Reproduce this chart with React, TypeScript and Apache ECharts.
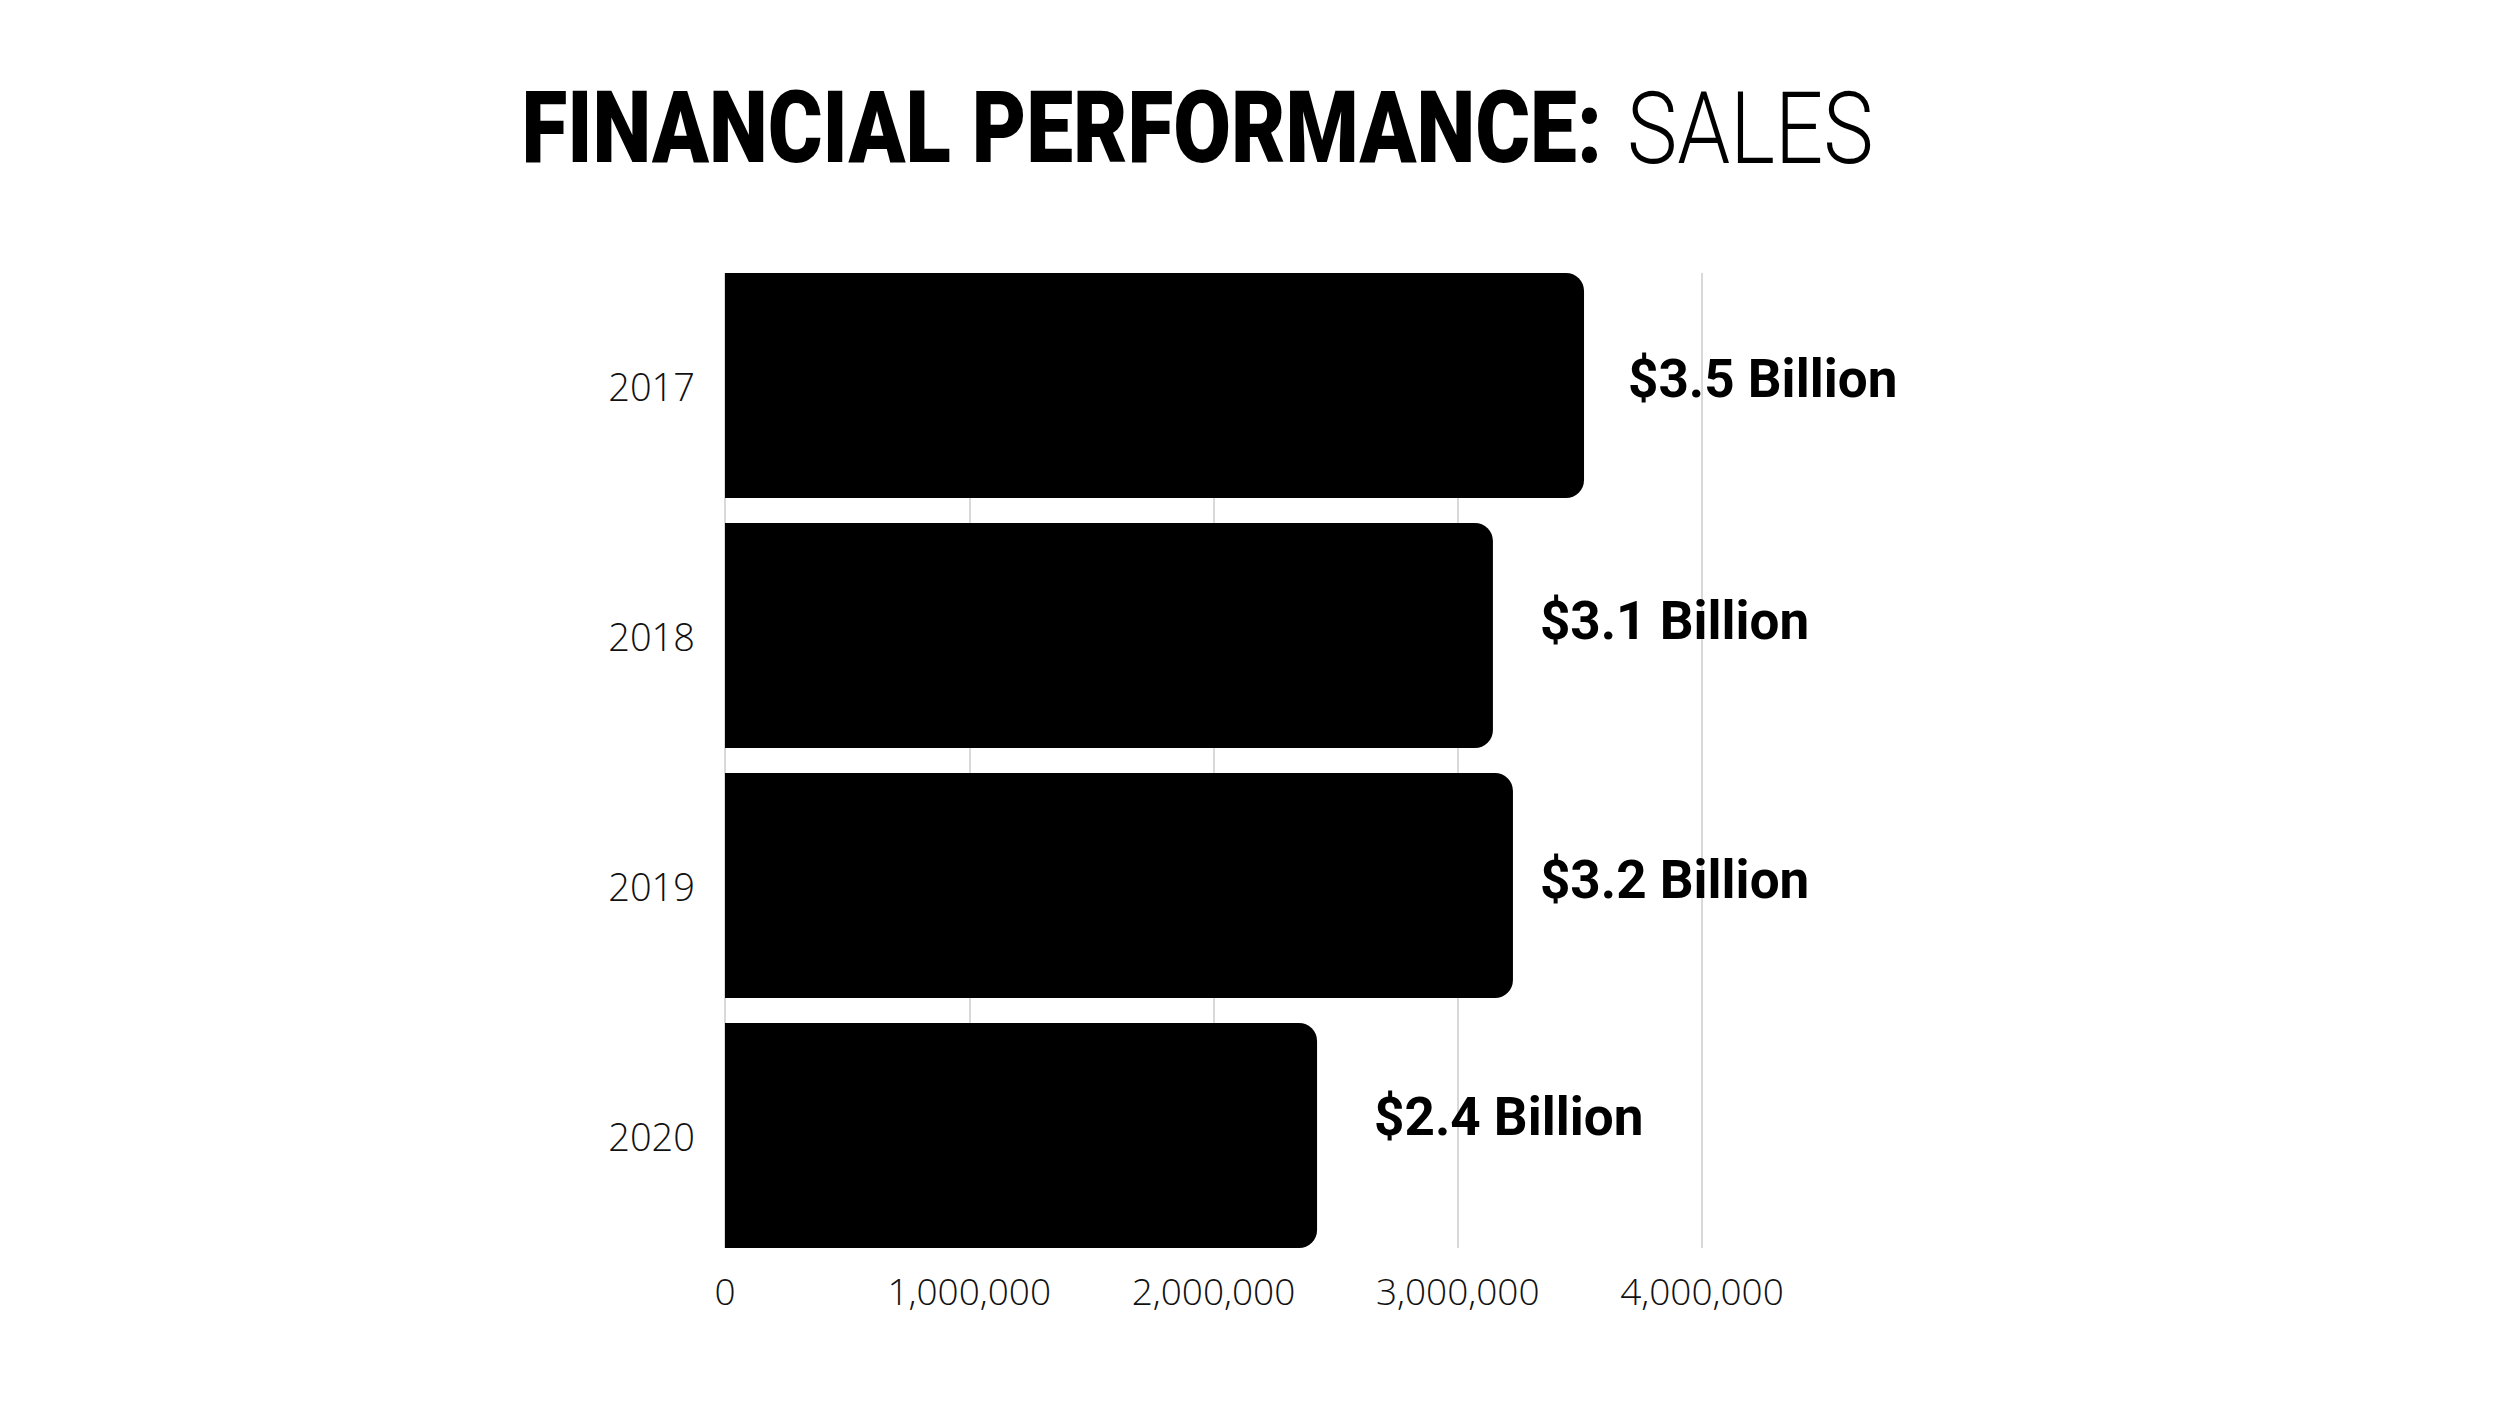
import React, { useEffect, useRef } from "react";
import * as echarts from "echarts";

// Annual sales, 2017–2020
const years: string[] = ["2017", "2018", "2019", "2020"];
const sales: number[] = [3517000, 3144000, 3226000, 2424000];
const xTicks: number[] = [0, 1000000, 2000000, 3000000, 4000000];

// Hand placement of the value call-outs beside each bar: [dx, dy] in px
const labelNudge: [number, number][] = [
  [44, -7],
  [47, -15],
  [27, -6],
  [57, -19],
];

const W = 2500;
const H = 1406;

export default function App() {
  const ref = useRef<HTMLDivElement>(null);

  useEffect(() => {
    if (!ref.current) return;
    const chart = echarts.init(ref.current, undefined, { renderer: "svg" });

    const plotLeft = 725;
    const plotWidth = 977;
    const xMax = xTicks[xTicks.length - 1];
    const tickStep = xTicks[1] - xTicks[0];

    chart.setOption({
      animation: false,
      backgroundColor: "#ffffff",
      graphic: [
        {
          type: "text",
          x: 1602,
          y: 128,
          scaleX: 0.828,
          style: {
            text: "FINANCIAL PERFORMANCE:",
            align: "right",
            verticalAlign: "middle",
            fill: "#000",
            fontFamily: "Roboto",
            fontWeight: 900,
            fontSize: 101,
          },
        },
        {
          type: "text",
          x: 1627,
          y: 128,
          scaleX: 0.84,
          style: {
            text: "SALES",
            align: "left",
            verticalAlign: "middle",
            fill: "#000",
            fontFamily: "Roboto",
            fontWeight: 300,
            fontSize: 101,
          },
        },
      ],
      grid: [
        // gridline frame: spans exactly from first bar's top to last bar's bottom
        { left: plotLeft, width: plotWidth, top: 273, height: 975 },
        // bar frame: one half-gap taller on each side
        { left: plotLeft, width: plotWidth, top: 260.5, height: 1000 },
      ],
      xAxis: [
        {
          type: "value",
          gridIndex: 0,
          min: 0,
          max: xMax,
          interval: tickStep,
          axisLine: { show: false },
          axisTick: { show: false },
          splitLine: { show: true, lineStyle: { color: "#cccccc", width: 1.5 } },
          axisLabel: {
            margin: 24,
            fontFamily: "Open Sans",
            fontWeight: 300,
            fontSize: 37,
            color: "#111",
            formatter: (v: number) => v.toLocaleString("en-US"),
          },
        },
        {
          type: "value",
          gridIndex: 1,
          min: 0,
          max: xMax,
          show: false,
        },
      ],
      yAxis: [
        {
          type: "category",
          gridIndex: 0,
          data: years,
          inverse: true,
          show: false,
        },
        {
          type: "category",
          gridIndex: 1,
          data: years,
          inverse: true,
          axisLine: { show: false },
          axisTick: { show: false },
          splitLine: { show: false },
          axisLabel: {
            margin: 30,
            fontFamily: "Open Sans",
            fontWeight: 300,
            fontSize: 38,
            color: "#111",
          },
        },
      ],
      series: [
        {
          type: "bar",
          xAxisIndex: 1,
          yAxisIndex: 1,
          barCategoryGap: "10%",
          itemStyle: { color: "#000", borderRadius: [0, 18, 18, 0] },
          data: sales.map((v, i) => ({
            value: v,
            label: { offset: labelNudge[i] },
          })),
          label: {
            show: true,
            position: "right",
            distance: 0,
            align: "left",
            verticalAlign: "middle",
            fontFamily: "Roboto",
            fontWeight: "bold",
            fontSize: 53,
            color: "#000",
            formatter: (p: any) => `$${(p.value / 1e6).toFixed(1)} Billion`,
          },
        },
      ],
    });

    return () => chart.dispose();
  }, []);

  return (
    <div
      ref={ref}
      style={{ position: "fixed", left: 0, top: 0, width: W, height: H, background: "#fff" }}
    />
  );
}
